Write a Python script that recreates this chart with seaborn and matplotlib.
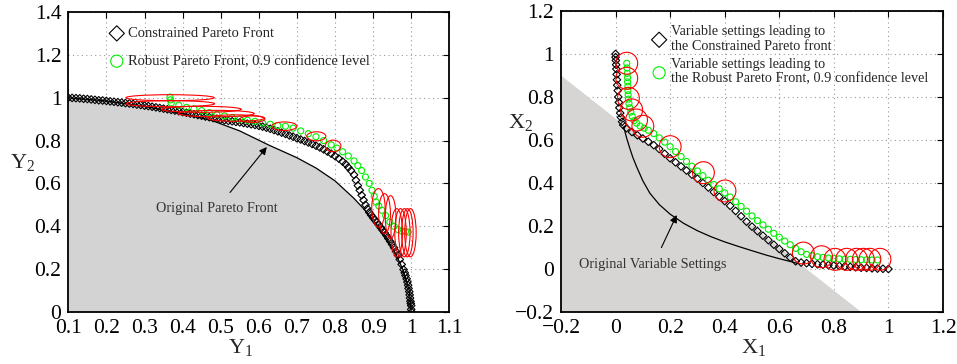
import numpy as np
import pandas as pd
import matplotlib
matplotlib.use("Agg")
import matplotlib.pyplot as plt
from matplotlib.patches import Ellipse, Polygon
import seaborn as sns

# ---------------- data: left panel (objective space) ----------------
orig_front_y1 = [0.10, 0.20, 0.30, 0.40, 0.475, 0.55, 0.625, 0.70, 0.75, 0.80, 0.85, 0.875,
                 0.90, 0.93, 0.96, 0.98, 0.995, 1.00]
orig_front_y2 = [1.00, 0.985, 0.96, 0.925, 0.895, 0.845, 0.78, 0.72, 0.672, 0.612, 0.53, 0.482,
                 0.43, 0.36, 0.27, 0.19, 0.10, 0.00]

cons_front_y1 = [0.10, 0.11, 0.12, 0.13, 0.14, 0.15, 0.16, 0.17, 0.18, 0.19, 0.20, 0.21, 0.22,
                 0.23, 0.24, 0.25, 0.26, 0.27, 0.28, 0.29, 0.30, 0.31, 0.32, 0.33, 0.34, 0.35,
                 0.36, 0.37, 0.38, 0.39, 0.40, 0.41, 0.42, 0.43, 0.44, 0.45, 0.46, 0.47, 0.48,
                 0.49, 0.50, 0.51, 0.52, 0.53, 0.54, 0.55, 0.56, 0.57, 0.58, 0.59, 0.60, 0.61,
                 0.62, 0.63, 0.64, 0.65, 0.66, 0.67, 0.68, 0.69, 0.70, 0.71, 0.72, 0.73, 0.74,
                 0.75, 0.76, 0.77, 0.78, 0.79, 0.80, 0.81, 0.82, 0.828, 0.835, 0.842, 0.85,
                 0.855, 0.86, 0.865, 0.87, 0.875, 0.88, 0.885, 0.89, 0.895, 0.90, 0.905, 0.91,
                 0.915, 0.92, 0.925, 0.93, 0.935, 0.94, 0.945, 0.95, 0.955, 0.96, 0.965, 0.97,
                 0.975, 0.98, 0.983, 0.985, 0.988, 0.99, 0.992, 0.993, 0.995, 0.996, 0.997,
                 0.998, 0.999, 1.000, 1.000, 1.001]
cons_front_y2 = [1.000, 0.999, 0.998, 0.997, 0.995, 0.994, 0.992, 0.990, 0.988, 0.987, 0.985,
                 0.983, 0.981, 0.979, 0.977, 0.975, 0.973, 0.971, 0.968, 0.966, 0.963, 0.961,
                 0.958, 0.955, 0.952, 0.949, 0.946, 0.943, 0.940, 0.937, 0.933, 0.930, 0.926,
                 0.923, 0.919, 0.916, 0.912, 0.909, 0.905, 0.902, 0.898, 0.895, 0.892, 0.890,
                 0.887, 0.885, 0.882, 0.879, 0.876, 0.873, 0.869, 0.865, 0.860, 0.855, 0.849,
                 0.843, 0.837, 0.831, 0.824, 0.818, 0.811, 0.805, 0.798, 0.791, 0.784, 0.776,
                 0.768, 0.759, 0.749, 0.739, 0.728, 0.716, 0.702, 0.690, 0.675, 0.660, 0.640,
                 0.615, 0.590, 0.568, 0.545, 0.522, 0.500, 0.482, 0.465, 0.452, 0.440, 0.429,
                 0.418, 0.406, 0.394, 0.382, 0.370, 0.357, 0.343, 0.329, 0.315, 0.300, 0.283,
                 0.265, 0.245, 0.222, 0.198, 0.183, 0.170, 0.155, 0.140, 0.125, 0.110, 0.095,
                 0.080, 0.065, 0.050, 0.040, 0.030, 0.012, 0.000]

rob_front_y1 = [0.367, 0.368, 0.370, 0.390, 0.410, 0.430, 0.450, 0.470, 0.490, 0.510, 0.530,
                0.550, 0.570, 0.590, 0.610, 0.630, 0.650, 0.670, 0.690, 0.710, 0.730, 0.750,
                0.770, 0.790, 0.805, 0.820, 0.835, 0.850, 0.860, 0.870, 0.880, 0.890, 0.897,
                0.903, 0.908, 0.915, 0.923, 0.933, 0.944, 0.955, 0.965, 0.975, 0.985, 0.992]
rob_front_y2 = [1.003, 0.990, 0.975, 0.965, 0.955, 0.948, 0.940, 0.930, 0.922, 0.915, 0.908,
                0.900, 0.895, 0.890, 0.882, 0.876, 0.870, 0.867, 0.858, 0.845, 0.832, 0.818,
                0.800, 0.780, 0.765, 0.748, 0.728, 0.705, 0.683, 0.660, 0.630, 0.600, 0.568,
                0.540, 0.513, 0.495, 0.475, 0.450, 0.420, 0.400, 0.385, 0.378, 0.375, 0.373]

ell_cx = [0.367, 0.368, 0.449, 0.488, 0.540, 0.583, 0.667, 0.751, 0.795, 0.914, 0.930, 0.946,
          0.962, 0.972, 0.982, 0.990, 0.998]
ell_cy = [1.000, 0.972, 0.946, 0.926, 0.905, 0.900, 0.867, 0.820, 0.775, 0.486, 0.459, 0.443,
          0.370, 0.370, 0.370, 0.370, 0.370]
ell_w = [0.232, 0.232, 0.210, 0.200, 0.150, 0.066, 0.066, 0.050, 0.041, 0.035, 0.031, 0.028,
         0.030, 0.030, 0.030, 0.030, 0.030]
ell_h = [0.028, 0.028, 0.028, 0.030, 0.030, 0.030, 0.040, 0.042, 0.054, 0.180, 0.187, 0.200,
         0.225, 0.225, 0.225, 0.225, 0.225]

# ---------------- data: right panel (variable space) ----------------
feas_x1 = [-0.2, 0.9, -0.2]
feas_x2 = [0.9, -0.2, -0.2]

orig_var_x1 = [0.030, 0.040, 0.050, 0.063, 0.077, 0.100, 0.126, 0.160, 0.200, 0.250, 0.300,
               0.350, 0.400, 0.450, 0.500, 0.554, 0.600, 0.640, 0.665]
orig_var_x2 = [0.660, 0.612, 0.570, 0.520, 0.476, 0.410, 0.352, 0.300, 0.255, 0.212, 0.178,
               0.150, 0.126, 0.105, 0.085, 0.064, 0.048, 0.035, 0.027]

cons_var_x1 = [0.000, 0.000, 0.001, 0.002, 0.003, 0.004, 0.005, 0.006, 0.008, 0.010, 0.012,
               0.014, 0.017, 0.020, 0.024, 0.028, 0.04, 0.06, 0.08, 0.10, 0.12, 0.14, 0.16,
               0.18, 0.20, 0.22, 0.24, 0.26, 0.28, 0.30, 0.32, 0.34, 0.36, 0.38, 0.40, 0.42,
               0.44, 0.46, 0.48, 0.50, 0.52, 0.54, 0.56, 0.58, 0.60, 0.62, 0.64, 0.66, 0.68,
               0.70, 0.72, 0.74, 0.76, 0.78, 0.80, 0.82, 0.84, 0.86, 0.88, 0.90, 0.92, 0.94,
               0.96, 0.98, 1.00]
cons_var_x2 = [1.000, 0.985, 0.970, 0.950, 0.930, 0.905, 0.880, 0.855, 0.830, 0.800, 0.775,
               0.750, 0.725, 0.705, 0.685, 0.670, 0.655, 0.637, 0.622, 0.607, 0.592, 0.576,
               0.558, 0.536, 0.515, 0.496, 0.477, 0.458, 0.439, 0.420, 0.400, 0.379, 0.358,
               0.336, 0.316, 0.294, 0.270, 0.245, 0.220, 0.197, 0.176, 0.155, 0.134, 0.113,
               0.093, 0.073, 0.053, 0.036, 0.030, 0.027, 0.024, 0.022, 0.020, 0.018, 0.016,
               0.014, 0.012, 0.010, 0.008, 0.006, 0.005, 0.003, 0.002, 0.001, 0.000]

rob_var_x1 = [0.041, 0.042, 0.043, 0.044, 0.044, 0.045, 0.045, 0.046, 0.047, 0.049, 0.052,
              0.056, 0.061, 0.068, 0.077, 0.090, 0.105, 0.120, 0.14, 0.16, 0.18, 0.20, 0.22,
              0.24, 0.26, 0.28, 0.30, 0.32, 0.34, 0.36, 0.38, 0.40, 0.42, 0.44, 0.46, 0.48,
              0.50, 0.52, 0.54, 0.56, 0.58, 0.60, 0.62, 0.64, 0.66, 0.68, 0.70, 0.72, 0.74,
              0.76, 0.78, 0.80, 0.82, 0.84, 0.86, 0.88, 0.90, 0.92, 0.94, 0.96]
rob_var_x2 = [0.957, 0.935, 0.910, 0.890, 0.870, 0.850, 0.830, 0.810, 0.790, 0.770, 0.750,
              0.730, 0.710, 0.690, 0.678, 0.665, 0.655, 0.645, 0.630, 0.610, 0.590, 0.569,
              0.546, 0.523, 0.500, 0.478, 0.456, 0.434, 0.413, 0.393, 0.373, 0.354, 0.335,
              0.313, 0.291, 0.269, 0.247, 0.225, 0.205, 0.185, 0.166, 0.148, 0.130, 0.113,
              0.096, 0.080, 0.068, 0.062, 0.057, 0.054, 0.051, 0.049, 0.047, 0.046, 0.045,
              0.044, 0.043, 0.043, 0.042, 0.042]

circ_cx = [0.041, 0.041, 0.047, 0.059, 0.077, 0.100, 0.200, 0.322, 0.401, 0.688, 0.755, 0.804,
           0.847, 0.883, 0.908, 0.932, 0.969]
circ_cy = [0.957, 0.887, 0.794, 0.740, 0.693, 0.664, 0.569, 0.448, 0.363, 0.074, 0.057, 0.045,
           0.045, 0.045, 0.045, 0.045, 0.045]
circ_w = 0.080
circ_h = 0.102

left_xticks = [0.1, 0.2, 0.3, 0.4, 0.5, 0.6, 0.7, 0.8, 0.9, 1.0, 1.1]
left_xticklabels = ["0.1", "0.2", "0.3", "0.4", "0.5", "0.6", "0.7", "0.8", "0.9", "1", "1.1"]
left_yticks = [0, 0.2, 0.4, 0.6, 0.8, 1.0, 1.2, 1.4]
left_yticklabels = ["0", "0.2", "0.4", "0.6", "0.8", "1", "1.2", "1.4"]
right_ticks = [-0.2, 0, 0.2, 0.4, 0.6, 0.8, 1.0, 1.2]
right_ticklabels = ["\u22120.2", "0", "0.2", "0.4", "0.6", "0.8", "1", "1.2"]

# ---------------- style ----------------
sns.set_theme(style="white")
plt.rcParams["font.family"] = ["Liberation Serif", "DejaVu Serif"]
plt.rcParams["mathtext.fontset"] = "custom"
plt.rcParams["mathtext.rm"] = "Liberation Serif"
plt.rcParams["mathtext.it"] = "Liberation Serif:italic"
plt.rcParams["mathtext.default"] = "regular"

fig = plt.figure(figsize=(9.57, 3.64), dpi=100)
axL = fig.add_axes([68.3 / 957, 52 / 364, 381 / 957, 300 / 364])
axR = fig.add_axes([561 / 957, 52 / 364, 382 / 957, 301 / 364])

GREEN = "#00ee00"
FILL_L = "#d3d3d3"
FILL_R = "#d7d4d4"
MK = 15
GC = 19


def style_axes(ax):
    ax.grid(True, linestyle=(0, (1, 3)), color="#9a9a9a", linewidth=0.8)
    ax.set_axisbelow(True)
    for s in ax.spines.values():
        s.set_color("black")
        s.set_linewidth(1.3)
    ax.tick_params(direction="in", top=True, right=True, length=4, width=0.8,
                   labelsize=15.5, colors="black", pad=5)


# ---------------- left panel ----------------
orig_df = pd.DataFrame({"y1": orig_front_y1, "y2": orig_front_y2})
fill_poly = list(zip(orig_front_y1, orig_front_y2)) + [(1.0, 0.0), (0.1, 0.0)]
axL.add_patch(Polygon(fill_poly, closed=True, facecolor=FILL_L, edgecolor="none", zorder=1))
sns.lineplot(data=orig_df, x="y1", y="y2", sort=False, color="black", linewidth=0.9,
             ax=axL, zorder=2)

cons_df = pd.DataFrame({"y1": cons_front_y1, "y2": cons_front_y2})
sns.scatterplot(data=cons_df, x="y1", y="y2", marker="D", s=MK, color="black",
                facecolor="none", edgecolor="black", linewidth=0.8, ax=axL, zorder=3,
                label="Constrained Pareto Front")
rob_df = pd.DataFrame({"y1": rob_front_y1, "y2": rob_front_y2})
sns.scatterplot(data=rob_df, x="y1", y="y2", marker="o", s=GC, color=GREEN,
                facecolor="none", edgecolor=GREEN, linewidth=0.8, ax=axL, zorder=4,
                label="Robust Pareto Front, 0.9 confidence level")
for cx, cy, w, h in zip(ell_cx, ell_cy, ell_w, ell_h):
    axL.add_patch(Ellipse((cx, cy), w, h, facecolor="none", edgecolor="red",
                          linewidth=0.8, zorder=5))

axL.annotate("Original Pareto Front", xy=(0.621, 0.77), xytext=(0.49, 0.482),
             ha="center", va="center", fontsize=10.3, color="#333333",
             arrowprops=dict(arrowstyle="-|>", color="black", lw=0.8,
                             mutation_scale=11, shrinkA=6, shrinkB=0))

axL.set_xlim(0.1, 1.1)
axL.set_ylim(0, 1.4)
axL.set_xticks(left_xticks)
axL.set_xticklabels(left_xticklabels)
axL.set_yticks(left_yticks)
axL.set_yticklabels(left_yticklabels)
style_axes(axL)
axL.set_xlabel("Y$_1$", fontsize=16)
axL.set_ylabel("Y$_2$", fontsize=16, rotation=0, ha="center", va="center")
axL.xaxis.set_label_coords(0.451, -0.082)
axL.yaxis.set_label_coords(-0.12, 0.50)
legL = axL.legend(loc="upper left", bbox_to_anchor=(0.11, 0.95), frameon=False,
                  fontsize=10.5, handlelength=0.9, handletextpad=0.35, borderpad=0,
                  borderaxespad=0, labelspacing=1.0, markerscale=2.0)

# ---------------- right panel ----------------
axR.add_patch(Polygon(list(zip(feas_x1, feas_x2)), closed=True, facecolor=FILL_R,
                      edgecolor="none", zorder=1))
ov_df = pd.DataFrame({"x1": orig_var_x1, "x2": orig_var_x2})
sns.lineplot(data=ov_df, x="x1", y="x2", sort=False, color="black", linewidth=0.9,
             ax=axR, zorder=2)
cv_df = pd.DataFrame({"x1": cons_var_x1, "x2": cons_var_x2})
sns.scatterplot(data=cv_df, x="x1", y="x2", marker="D", s=MK, color="black",
                facecolor="none", edgecolor="black", linewidth=0.8, ax=axR, zorder=3,
                label="Variable settings leading to\nthe Constrained Pareto front")
rv_df = pd.DataFrame({"x1": rob_var_x1, "x2": rob_var_x2})
sns.scatterplot(data=rv_df, x="x1", y="x2", marker="o", s=GC, color=GREEN,
                facecolor="none", edgecolor=GREEN, linewidth=0.8, ax=axR, zorder=4,
                label="Variable settings leading to\nthe Robust Pareto Front, 0.9 confidence level")
for cx, cy in zip(circ_cx, circ_cy):
    axR.add_patch(Ellipse((cx, cy), circ_w, circ_h, facecolor="none", edgecolor="red",
                          linewidth=0.8, zorder=5))

axR.annotate("Original Variable Settings", xy=(0.224, 0.251), xytext=(0.138, 0.019),
             ha="center", va="center", fontsize=10.3, color="#333333",
             arrowprops=dict(arrowstyle="-|>", color="black", lw=0.8,
                             mutation_scale=11, shrinkA=6, shrinkB=0))

axR.set_xlim(-0.2, 1.2)
axR.set_ylim(-0.2, 1.2)
axR.set_xticks(right_ticks)
axR.set_xticklabels(right_ticklabels)
axR.set_yticks(right_ticks)
axR.set_yticklabels(right_ticklabels)
style_axes(axR)
axR.set_xlabel("X$_1$", fontsize=16)
axR.set_ylabel("X$_2$", fontsize=16, rotation=0, ha="center", va="center")
axR.xaxis.set_label_coords(0.503, -0.082)
axR.yaxis.set_label_coords(-0.105, 0.631)
legR = axR.legend(loc="upper left", bbox_to_anchor=(0.24, 0.955), frameon=False,
                  fontsize=10.3, handlelength=0.9, handletextpad=0.35, borderpad=0,
                  borderaxespad=0, labelspacing=0.35, markerscale=2.0)

fig.savefig("out.png", dpi=100)
